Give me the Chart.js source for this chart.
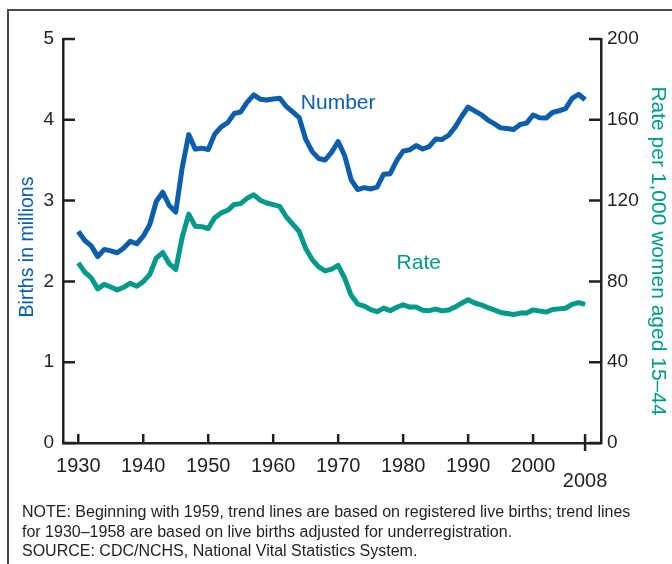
<!DOCTYPE html>
<html>
<head>
<meta charset="utf-8">
<script src="https://cdn.jsdelivr.net/npm/chart.js@4"></script>
<style>
    body { margin: 0; background: #fff; }
    #wrap { position: relative; width: 672px; height: 564px; }
    #frame {
        position: absolute; left: 7px; top: 9px; right: -10px; bottom: -10px;
        border-top: 2px solid #4a4a4a; border-left: 2px solid #4a4a4a;
    }
    #note {
        position: absolute; left: 22px; top: 502px;
        font: 16px "Liberation Sans", Arial, sans-serif; color: #231f20;
        line-height: 19.5px;
    }
</style>
</head>
<body>
<div id="wrap">
    <div id="frame"></div>
    <canvas id="births-chart"></canvas>
    <div id="note">NOTE: Beginning with 1959, trend lines are based on registered live births; trend lines<br>for 1930–1958 are based on live births adjusted for underregistration.<br>SOURCE: CDC/NCHS, National Vital Statistics System.</div>
</div>
<script>
// ================================
// Data
// ================================
const years = [];
for (let y = 1930; y <= 2008; y++) years.push(y);

// births, millions
const numberValues = [
    2.618, 2.506, 2.440, 2.307, 2.396, 2.377, 2.355, 2.413, 2.496, 2.466,
    2.559, 2.703, 2.989, 3.104, 2.939, 2.858, 3.411, 3.817, 3.637, 3.649,
    3.632, 3.823, 3.913, 3.965, 4.078, 4.097, 4.218, 4.308, 4.255, 4.245,
    4.258, 4.268, 4.167, 4.098, 4.027, 3.760, 3.606, 3.521, 3.502, 3.600,
    3.731, 3.556, 3.258, 3.137, 3.160, 3.144, 3.168, 3.327, 3.333, 3.494,
    3.612, 3.629, 3.681, 3.639, 3.669, 3.761, 3.757, 3.809, 3.910, 4.041,
    4.158, 4.111, 4.065, 4.000, 3.953, 3.900, 3.891, 3.881, 3.942, 3.959,
    4.059, 4.026, 4.022, 4.090, 4.112, 4.138, 4.266, 4.316, 4.248,
];

// rate per 1,000 women aged 15-44
const rateValues = [
    89.2, 84.6, 81.7, 76.3, 78.5, 77.2, 75.8, 77.1, 79.1, 77.6,
    79.9, 83.4, 91.5, 94.3, 88.8, 85.9, 101.9, 113.3, 107.3, 107.1,
    106.2, 111.5, 113.9, 115.2, 118.1, 118.5, 121.2, 122.9, 120.2, 118.8,
    118.0, 117.1, 112.0, 108.3, 104.7, 96.3, 90.8, 87.2, 85.2, 86.1,
    87.9, 81.6, 73.1, 68.8, 67.8, 66.0, 65.0, 66.8, 65.5, 67.2,
    68.4, 67.3, 67.3, 65.7, 65.5, 66.3, 65.4, 65.8, 67.3, 69.2,
    70.9, 69.3, 68.4, 67.0, 65.9, 64.6, 64.1, 63.6, 64.3, 64.4,
    65.9, 65.3, 64.8, 66.1, 66.4, 66.7, 68.6, 69.5, 68.6,
];

const yearTicks = [1930, 1940, 1950, 1960, 1970, 1980, 1990, 2000, 2008];
const numberTicks = [0, 1, 2, 3, 4, 5];
const rateTicks = [0, 40, 80, 120, 160, 200];

// ================================
// Styles
// ================================
const COLORS = {
    number: "#0b5eab",
    rate: "#00998a",
    axis: "#231f20",
};
const FONT = "'Liberation Sans', Arial, sans-serif";

// inward tick marks + series labels + axis titles
const decorPlugin = {
    id: "decor",
    afterDraw(chart) {
        const { ctx, chartArea: a, scales } = chart;
        ctx.save();
        ctx.strokeStyle = COLORS.axis;
        ctx.lineWidth = 2.5;
        ctx.beginPath();
        numberTicks.forEach((v) => {
            const py = scales.y.getPixelForValue(v);
            ctx.moveTo(a.left, py);
            ctx.lineTo(a.left + 12, py);
        });
        rateTicks.forEach((v) => {
            const py = scales.y1.getPixelForValue(v);
            ctx.moveTo(a.right - 12, py);
            ctx.lineTo(a.right, py);
        });
        yearTicks.forEach((v) => {
            const px = scales.x.getPixelForValue(v);
            ctx.moveTo(px, a.bottom);
            ctx.lineTo(px, a.bottom - 9);
            if (v === 2008) ctx.lineTo(px, a.bottom + 8);
        });
        ctx.stroke();

        ctx.font = "21px " + FONT;
        ctx.textAlign = "center";
        ctx.textBaseline = "middle";
        ctx.fillStyle = COLORS.number;
        ctx.fillText("Number", scales.x.getPixelForValue(1970), scales.y.getPixelForValue(4.21));
        ctx.fillStyle = COLORS.rate;
        ctx.fillText("Rate", scales.x.getPixelForValue(1982.4), scales.y1.getPixelForValue(89));

        ctx.font = "19.5px " + FONT;
        ctx.fillStyle = COLORS.number;
        ctx.translate(28, 247);
        ctx.rotate(-Math.PI / 2);
        ctx.fillText("Births in millions", 0, 0);
        ctx.restore();

        ctx.save();
        ctx.font = "21px " + FONT;
        ctx.textAlign = "center";
        ctx.textBaseline = "middle";
        ctx.fillStyle = COLORS.rate;
        ctx.translate(658, 251);
        ctx.rotate(Math.PI / 2);
        ctx.fillText("Rate per 1,000 women aged 15–44", 0, 0);
        ctx.restore();
    },
};

function initializeChart() {
    const ctx = document.getElementById("births-chart").getContext("2d");
    const axisBorder = { display: true, color: COLORS.axis, width: 2.5 };
    const noGrid = { display: false, drawTicks: false };
    const tickFont = { family: FONT, size: 19 };

    new Chart(ctx, {
        type: "line",
        data: {
            datasets: [
                {
                    label: "Number",
                    data: years.map((yr, i) => ({ x: yr, y: numberValues[i] })),
                    borderColor: COLORS.number,
                    yAxisID: "y",
                },
                {
                    label: "Rate",
                    data: years.map((yr, i) => ({ x: yr, y: rateValues[i] })),
                    borderColor: COLORS.rate,
                    yAxisID: "y1",
                },
            ],
        },
        options: {
            responsive: true,
            maintainAspectRatio: false,
            animation: false,
            layout: { padding: { top: 39, left: 0, right: 0, bottom: 0 } },
            elements: {
                point: { radius: 0 },
                line: { borderWidth: 5, tension: 0, borderJoinStyle: "round", borderCapStyle: "butt" },
            },
            plugins: {
                legend: { display: false },
                tooltip: { enabled: false },
            },
            scales: {
                x: {
                    type: "linear",
                    min: 1927.65,
                    max: 2010.45,
                    border: axisBorder,
                    grid: noGrid,
                    afterBuildTicks: (scale) => {
                        scale.ticks = yearTicks.map((v) => ({ value: v }));
                    },
                    afterFit: (scale) => { scale.height = 121; },
                    ticks: {
                        color: COLORS.axis,
                        font: { family: FONT, size: 20, lineHeight: "15px" },
                        padding: 16,
                        maxRotation: 0,
                        autoSkip: false,
                        callback: (v) => (v === 2008 ? ["", "2008"] : String(v)),
                    },
                },
                y: {
                    position: "left",
                    min: 0,
                    max: 5,
                    border: axisBorder,
                    grid: noGrid,
                    afterBuildTicks: (scale) => {
                        scale.ticks = numberTicks.map((v) => ({ value: v }));
                    },
                    afterFit: (scale) => { scale.width = 63; },
                    ticks: { color: COLORS.axis, font: tickFont, padding: 9 },
                },
                y1: {
                    position: "right",
                    min: 0,
                    max: 200,
                    border: axisBorder,
                    grid: noGrid,
                    afterBuildTicks: (scale) => {
                        scale.ticks = rateTicks.map((v) => ({ value: v }));
                    },
                    afterFit: (scale) => { scale.width = 71; },
                    ticks: { color: COLORS.axis, font: tickFont, padding: 6 },
                },
            },
        },
        plugins: [decorPlugin],
    });
}

document.getElementById("births-chart").parentElement.style.height = "564px";
initializeChart();
</script>
</body>
</html>
